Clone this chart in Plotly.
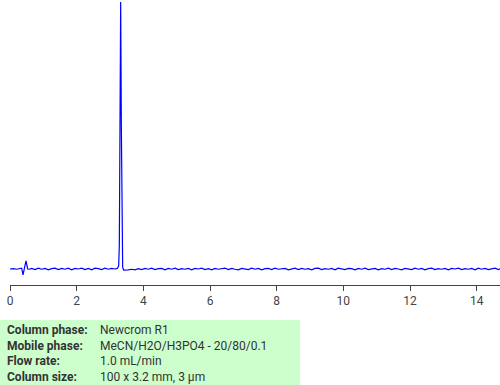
import plotly.graph_objects as go

# Retention time (min) and detector signal (arbitrary units)
start_time = [0.00, 0.10, 0.20, 0.30, 0.35, 0.39, 0.44, 0.48, 0.53, 0.58]
start_signal = [0, 1, -1, 1, 3, -22, 8, 30, 0, -1]

base1_time = [0.65, 0.75, 0.85, 0.95, 1.05, 1.15, 1.25, 1.35, 1.45, 1.55, 1.65, 1.75, 1.85,
              1.95, 2.05, 2.15, 2.25, 2.35, 2.45, 2.55, 2.65, 2.75, 2.85, 2.95, 3.05, 3.15]
base1_signal = [2, -2, 3, -1, 2, -3, 1, 3, -2, 2, -1, 3, -3, 2, 0, 3, -2, 2, -3, 3, 1, -2, 3, -1, 2, 0]

peak_time = [3.22, 3.26, 3.28, 3.30, 3.32, 3.34, 3.36, 3.38, 3.41]
peak_signal = [2, 12, 90, 560, 1000, 540, 70, 6, -4]

base2_time = [round(3.45 + 0.1 * i, 2) for i in range(115)]
base2_signal = [-4, -3, -1, -3, 1, -2, 2, -1, 3, -2, 1, 2, -3, 2, -1, 3, -2, 1, -1, 2,
                -3, 2, 0, 3, -2, 1, -3, 2, -1, 1, 3, -2, 2, -1, -3, 2, 1, -2, 3, -1,
                2, -3, 1, 2, -2, 3, -1, 0, 2, -3, 1, 3, -2, 2, -1, 1, -3, 2, 3, -2,
                1, -1, 2, -3, 3, 0, -2, 2, 1, -3, 2, -1, 3, -2, 1, 2, -3, 1, -1, 3,
                -2, 2, 0, -3, 2, 1, -2, 3, -1, 2, -3, 1, 3, -2, 1, -1, 2, -3, 2, 0,
                3, -2, 1, -1, 2, -3, 3, -1, 2, -2, 1, 3, -2, 2, -1]

time = start_time + base1_time + peak_time + base2_time
signal = start_signal + base1_signal + peak_signal + base2_signal

x_ticks = [0, 2, 4, 6, 8, 10, 12, 14]

info_labels = ["Column phase:", "Mobile phase:", "Flow rate:", "Column size:"]
info_values = ["Newcrom R1", "MeCN/H2O/H3PO4 - 20/80/0.1", "1.0 mL/min", "100 x 3.2 mm, 3 µm"]

fig = go.Figure()
fig.add_trace(go.Scatter(x=time, y=signal, mode="lines",
                         line=dict(color="#0000ff", width=1.2), hoverinfo="skip"))

fig.update_layout(
    width=500, height=385,
    margin=dict(l=10, r=0, t=0, b=100),
    paper_bgcolor="white", plot_bgcolor="white",
    showlegend=False,
    font=dict(family="Roboto", size=12, color="#444"),
    xaxis=dict(range=[0, 14.7], tickvals=x_ticks, showgrid=False, zeroline=False,
               showline=True, linecolor="#444", linewidth=1,
               ticks="outside", ticklen=5, tickcolor="#444",
               tickfont=dict(family="Roboto", size=12, color="#444")),
    yaxis=dict(range=[-60, 1007.5], visible=False, showgrid=False, zeroline=False),
)

# info box
fig.add_shape(type="rect", xref="paper", yref="paper",
              x0=-10 / 490, x1=290 / 490, y0=(285 - 385) / 285, y1=(285 - 320) / 285,
              fillcolor="#ccffcc", line=dict(width=0), layer="below")

row_y = [330, 346, 361, 377]
for lab, val, py in zip(info_labels, info_values, row_y):
    yp = (285 - py) / 285
    fig.add_annotation(x=-5 / 490, y=yp, xref="paper", yref="paper", text="<b>" + lab + "</b>",
                       showarrow=False, xanchor="left", yanchor="middle",
                       font=dict(family="Roboto", size=12, color="#333"))
    fig.add_annotation(x=88 / 490, y=yp, xref="paper", yref="paper", text=val,
                       showarrow=False, xanchor="left", yanchor="middle",
                       font=dict(family="Roboto", size=12, color="#333"))

fig.write_html("out.html")
